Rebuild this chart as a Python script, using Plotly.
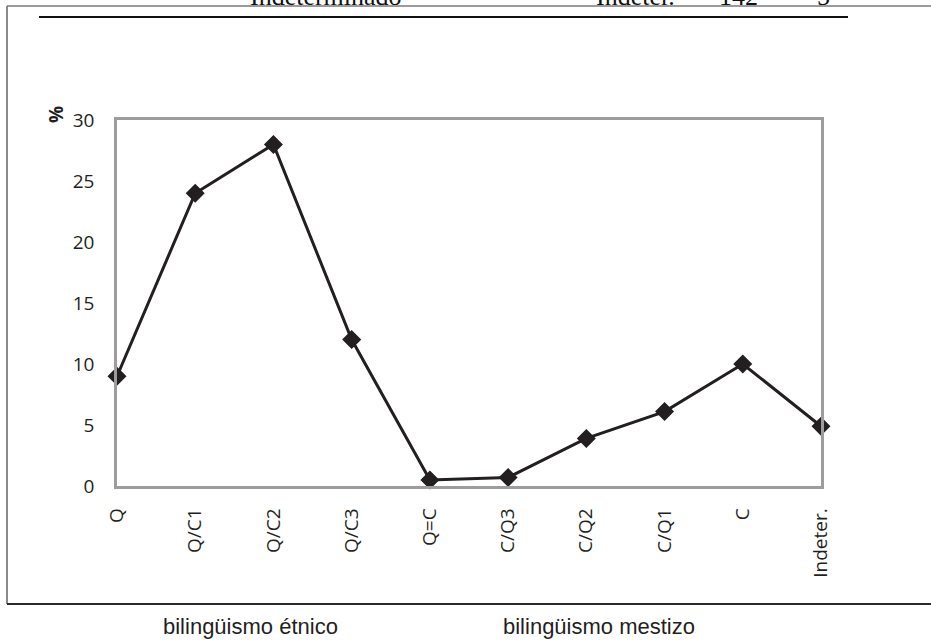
import plotly.graph_objects as go

categories = ["Q", "Q/C1", "Q/C2", "Q/C3", "Q=C", "C/Q3", "C/Q2", "C/Q1", "C", "Indeter."]
values = [9, 24, 28, 12, 0.5, 0.7, 3.9, 6.1, 10, 4.9]
y_ticks = [0, 5, 10, 15, 20, 25, 30]
group_labels = ["bilingüismo étnico", "bilingüismo mestizo"]
top_texts = ["Indeterminado", "Indeter.", "142", "5"]

W, H = 931, 641
L, R, T, B = 117, 110, 120, 155
PW, PH = W - L - R, H - T - B


def px(x):
    return (x - L) / PW


def py(y):
    return (H - B - y) / PH


ink = "#231f20"
tick_font = dict(family="Open Sans", size=19, color=ink)

fig = go.Figure()
fig.add_trace(go.Scatter(
    x=categories, y=values, mode="lines+markers",
    line=dict(color=ink, width=3),
    marker=dict(symbol="diamond", size=13, color=ink, line=dict(color=ink, width=1.5)),
    cliponaxis=False, showlegend=False,
))

shapes = [
    dict(type="line", xref="paper", yref="paper", x0=px(7), x1=px(7), y0=py(6), y1=py(604),
         line=dict(color="#8a8a8a", width=2)),
    dict(type="line", xref="paper", yref="paper", x0=px(7), x1=px(931), y0=py(6), y1=py(6),
         line=dict(color="#7a7a7a", width=1.5)),
    dict(type="line", xref="paper", yref="paper", x0=px(7), x1=px(931), y0=py(604), y1=py(604),
         line=dict(color="#2a2a2a", width=2)),
    dict(type="line", xref="paper", yref="paper", x0=px(39), x1=px(848), y0=py(17), y1=py(17),
         line=dict(color="#111111", width=2)),
]

annotations = [
    dict(text="<b>%</b>", xref="paper", yref="paper", x=px(56), y=py(114), textangle=-90,
         showarrow=False, font=dict(family="Open Sans", size=19, color=ink),
         xanchor="center", yanchor="middle"),
    dict(text=group_labels[0], xref="paper", yref="paper", x=px(250), y=py(626),
         showarrow=False, font=dict(family="Liberation Sans", size=22, color=ink),
         xanchor="center", yanchor="middle"),
    dict(text=group_labels[1], xref="paper", yref="paper", x=px(599), y=py(626),
         showarrow=False, font=dict(family="Liberation Sans", size=22, color=ink),
         xanchor="center", yanchor="middle"),
]
for t, xc in zip(top_texts, [326, 635, 738, 824]):
    annotations.append(dict(text=t, xref="paper", yref="paper", x=px(xc), y=py(-3),
                            showarrow=False, font=dict(family="Liberation Serif", size=26, color="#111"),
                            xanchor="center", yanchor="middle"))

fig.update_layout(
    width=W, height=H,
    margin=dict(l=L, r=R, t=T, b=B, pad=0),
    paper_bgcolor="white", plot_bgcolor="white",
    shapes=shapes, annotations=annotations,
    xaxis=dict(type="category", range=[0, 9], tickangle=-90, showgrid=False, zeroline=False,
               showline=True, linecolor="#9d9d9d", linewidth=2.5, mirror=True,
               ticks="", ticklabelstandoff=12, tickfont=tick_font),
    yaxis=dict(range=[0, 30], tickvals=y_ticks, showgrid=False, zeroline=False,
               showline=True, linecolor="#9d9d9d", linewidth=2.5, mirror=True,
               ticks="", ticklabelstandoff=16, tickfont=tick_font),
)

fig.write_html("out.html", config={"displayModeBar": False},
               post_script="document.body.style.margin='0';document.body.style.overflow='hidden';")
